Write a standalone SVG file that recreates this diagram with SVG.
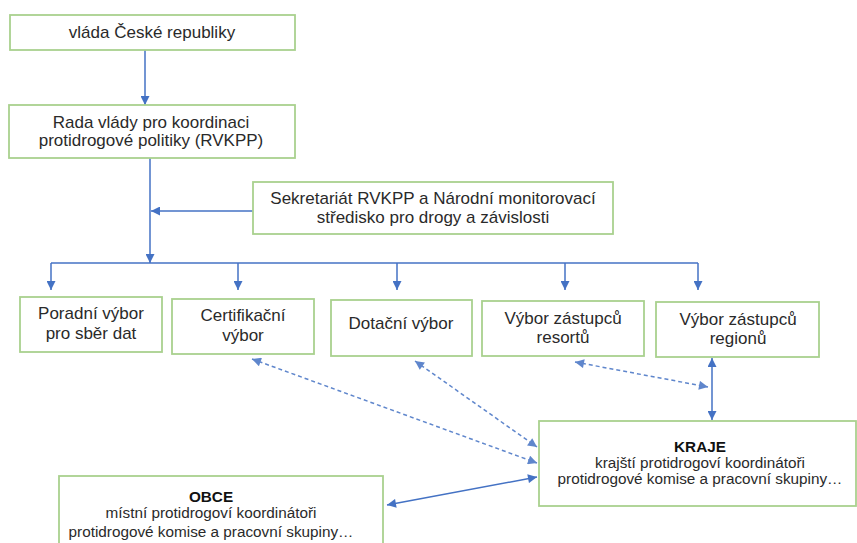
<svg xmlns="http://www.w3.org/2000/svg" width="857" height="543" viewBox="0 0 857 543">
<defs>
<style>
.box{fill:#fff;stroke:#a9d18e;stroke-width:1.8}
.t{font-family:"Liberation Sans",Arial,sans-serif;font-size:17px;fill:#2a2a2a;text-anchor:middle}
.s{font-size:15.3px}
.b{font-weight:bold;fill:#111}
.c{stroke:#4472c4;stroke-width:1.5;fill:none}
.d{stroke:#4472c4;stroke-width:1.5;fill:none;stroke-dasharray:4 3;opacity:0.85}
</style>
<marker id="ah" viewBox="0 0 10 10" refX="10" refY="5" markerWidth="10" markerHeight="9" markerUnits="userSpaceOnUse" orient="auto-start-reverse">
<path d="M0,0 L10,5 L0,10 Z" fill="#4472c4"/>
</marker>
</defs>
<rect width="857" height="543" fill="#fff"/>
<g id="connectors">
<line class="c" x1="145" y1="50" x2="145" y2="105" marker-end="url(#ah)"/>
<line class="c" x1="150" y1="158" x2="150" y2="263" marker-end="url(#ah)"/>
<line class="c" x1="253" y1="211" x2="151" y2="211" marker-end="url(#ah)"/>
<line class="c" x1="51" y1="263" x2="698" y2="263"/>
<line class="c" x1="51" y1="263" x2="51" y2="290" marker-end="url(#ah)"/>
<line class="c" x1="238" y1="263" x2="238" y2="290" marker-end="url(#ah)"/>
<line class="c" x1="397" y1="263" x2="397" y2="290" marker-end="url(#ah)"/>
<line class="c" x1="565" y1="263" x2="565" y2="290" marker-end="url(#ah)"/>
<line class="c" x1="698" y1="263" x2="698" y2="290" marker-end="url(#ah)"/>
<line class="d" x1="252" y1="359" x2="537" y2="463" marker-start="url(#ah)" marker-end="url(#ah)"/>
<line class="d" x1="415" y1="361" x2="537" y2="447" marker-start="url(#ah)" marker-end="url(#ah)"/>
<line class="d" x1="575" y1="362" x2="708" y2="387" marker-start="url(#ah)" marker-end="url(#ah)"/>
<line class="c" x1="712" y1="358" x2="712" y2="420" marker-start="url(#ah)" marker-end="url(#ah)"/>
<line class="c" x1="387" y1="505" x2="537" y2="477" marker-start="url(#ah)" marker-end="url(#ah)"/>
</g>
<g id="vlada">
<rect class="box" x="10" y="15" width="285" height="35"/>
<text class="t" x="152" y="38">vláda České republiky</text>
</g>
<g id="rvkpp">
<rect class="box" x="9" y="105" width="286" height="53"/>
<text class="t" x="151" y="128">Rada vlády pro koordinaci</text>
<text class="t" x="151" y="146">protidrogové politiky (RVKPP)</text>
</g>
<g id="sekretariat">
<rect class="box" x="253" y="182" width="360" height="52"/>
<text class="t" x="433" y="204">Sekretariát RVKPP a Národní monitorovací</text>
<text class="t" x="433" y="223">středisko pro drogy a závislosti</text>
</g>
<g id="poradni">
<rect class="box" x="20" y="297" width="142" height="55"/>
<text class="t" x="91" y="319">Poradní výbor</text>
<text class="t" x="91" y="339">pro sběr dat</text>
</g>
<g id="certifikacni">
<rect class="box" x="172" y="299" width="142" height="55"/>
<text class="t" x="243" y="321">Certifikační</text>
<text class="t" x="243" y="341">výbor</text>
</g>
<g id="dotacni">
<rect class="box" x="331" y="300" width="141" height="56"/>
<text class="t" x="401" y="329">Dotační výbor</text>
</g>
<g id="resorty">
<rect class="box" x="482" y="301" width="162" height="55"/>
<text class="t" x="563" y="324">Výbor zástupců</text>
<text class="t" x="563" y="343">resortů</text>
</g>
<g id="regiony">
<rect class="box" x="656" y="302" width="163" height="55"/>
<text class="t" x="738" y="325">Výbor zástupců</text>
<text class="t" x="738" y="344">regionů</text>
</g>
<g id="kraje">
<rect class="box" x="539" y="421" width="317" height="85"/>
<text class="t s b" x="700" y="452">KRAJE</text>
<text class="t s" x="700" y="468">krajští protidrogoví koordinátoři</text>
<text class="t s" x="700" y="484">protidrogové komise a pracovní skupiny…</text>
</g>
<g id="obce">
<rect class="box" x="59" y="476" width="324" height="80"/>
<text class="t s b" x="211" y="502">OBCE</text>
<text class="t s" x="211" y="518">místní protidrogoví koordinátoři</text>
<text class="t s" x="211" y="537">protidrogové komise a pracovní skupiny…</text>
</g>
</svg>
